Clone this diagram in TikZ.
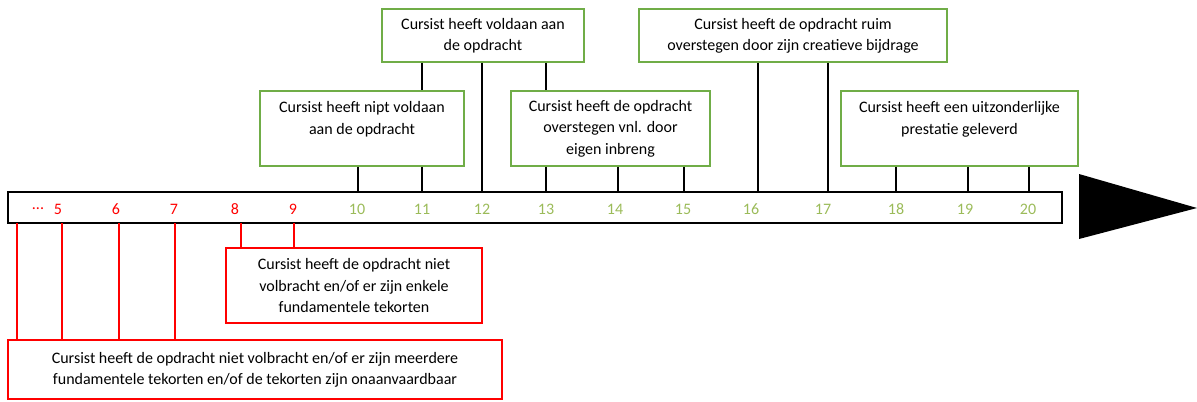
\documentclass[tikz,border=0pt]{standalone}
\usepackage{fontspec}
\setmainfont{Carlito}
\usepackage{tikz}
\usetikzlibrary{calc}
\definecolor{boxgreen}{HTML}{70AD47}
\definecolor{numgreen}{HTML}{9BBB59}
\definecolor{numred}{HTML}{FF0000}

\begin{document}
\begin{tikzpicture}[x=0.75pt,y=-0.75pt,
                font=\fontsize{12}{16}\selectfont,
                gbox/.style={draw=boxgreen,line width=1.2pt,inner sep=0pt,align=center},
                rbox/.style={draw=numred,line width=1.2pt,inner sep=0pt,align=center},
                tick/.style={line width=1pt},
                rtick/.style={draw=numred,line width=1pt}]
                \useasboundingbox (0,0) rectangle (1197,401);

                \coordinate (BL) at (8,223);
                \coordinate (TR) at (1062,192);
                \draw[line width=1pt] (BL) rectangle (TR);
                \fill (1079,174) -- (1197,208) -- (1079,239) -- cycle;

                \node[numred] (dots) at (38,209) {...};
                \foreach \n/\x in {5/58,6/116,7/174,8/235,9/293}
                    \node[numred] (n\n) at (\x,209) {\n};
                \foreach \n/\x in {10/357,11/422,12/482,13/546,14/615,15/683,16/751,17/823,18/896,19/965,20/1028}
                    \node[numgreen] (n\n) at (\x,209) {\n};

                \node[gbox,minimum width=151.5pt,minimum height=39.75pt] (voldaan) at (483,35.5)
                    {Cursist heeft voldaan aan\\de opdracht};
                \node[gbox,minimum width=153pt,minimum height=56.25pt] (nipt) at (362,128.5)
                    {Cursist heeft nipt voldaan\\aan de opdracht\\~};
                \node[gbox,minimum width=149.25pt,minimum height=56.25pt] (inbreng) at (610.5,128.5)
                    {Cursist heeft de opdracht\\overstegen vnl. door\\eigen inbreng};
                \node[gbox,minimum width=231pt,minimum height=39.75pt] (ruim) at (793,35.5)
                    {Cursist heeft de opdracht ruim\\overstegen door zijn creatieve bijdrage};
                \node[gbox,minimum width=177.75pt,minimum height=56.25pt] (uitz) at (959.5,128.5)
                    {Cursist heeft een uitzonderlijke\\prestatie geleverd\\~};
                \node[rbox,minimum width=192pt,minimum height=56.25pt] (enkele) at (354,285.5)
                    {Cursist heeft de opdracht niet\\volbracht en/of er zijn enkele\\fundamentele tekorten};
                \node[rbox,minimum width=370.5pt,minimum height=44.25pt] (meerdere) at (255,369.5)
                    {Cursist heeft de opdracht niet volbracht en/of er zijn meerdere\\fundamentele tekorten en/of de tekorten zijn onaanvaardbaar};

                \coordinate (t10) at (358,192);
                \coordinate (t11) at (422,192);
                \coordinate (t12) at (482,192);
                \coordinate (t13) at (546,192);
                \coordinate (t14) at (618,192);
                \coordinate (t15) at (684,192);
                \coordinate (t16) at (758,192);
                \coordinate (t17) at (828,192);
                \coordinate (t18) at (896,192);
                \coordinate (t19) at (968,192);
                \coordinate (t20) at (1029,192);

                \draw[tick] (t10 |- nipt.south) -- (t10);
                \draw[tick] (t11 |- voldaan.south) -- (t11 |- nipt.north) (t11 |- nipt.south) -- (t11);
                \draw[tick] (t12 |- voldaan.south) -- (t12);
                \draw[tick] (t13 |- voldaan.south) -- (t13 |- inbreng.north) (t13 |- inbreng.south) -- (t13);
                \draw[tick] (t14 |- inbreng.south) -- (t14) (t15 |- inbreng.south) -- (t15);
                \draw[tick] (t16 |- ruim.south) -- (t16) (t17 |- ruim.south) -- (t17);
                \draw[tick] (t18 |- uitz.south) -- (t18) (t19 |- uitz.south) -- (t19) (t20 |- uitz.south) -- (t20);

                \coordinate (b4) at (17,223);
                \coordinate (b5) at (62,223);
                \coordinate (b6) at (119,223);
                \coordinate (b7) at (175,223);
                \coordinate (b8) at (241,223);
                \coordinate (b9) at (294,223);

                \draw[rtick] (b4) -- (b4 |- meerdere.north) (b5) -- (b5 |- meerdere.north)
                    (b6) -- (b6 |- meerdere.north) (b7) -- (b7 |- meerdere.north);
                \draw[rtick] (b8) -- (b8 |- enkele.north) (b9) -- (b9 |- enkele.north)
                    (b8 |- enkele.north) -- (b9 |- enkele.north);
            \end{tikzpicture}
\end{document}
